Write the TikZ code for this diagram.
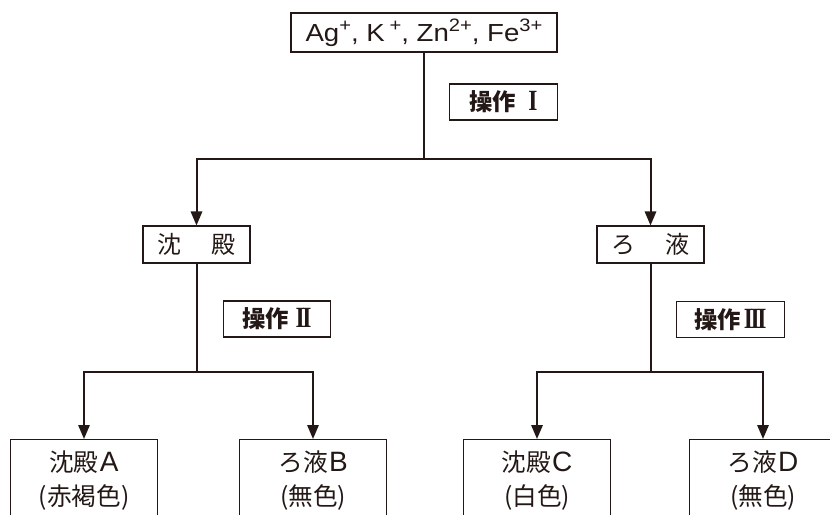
\documentclass[tikz,border=0pt]{standalone}
\usepackage{graphicx}
\usepackage{fontspec}
\setmainfont{Liberation Sans}
\newfontfamily\jpfont{Noto Sans CJK JP}
\newfontfamily\romfont{Liberation Serif}
\usetikzlibrary{arrows.meta}
\usetikzlibrary{positioning}

\begin{document}
\begin{tikzpicture}[x=0.75pt, y=-0.75pt,
		line/.style={line width=1.5pt, color=INK},
		flow/.style={line, -{Triangle[length=10.5pt, width=8.5pt]}},
		box/.style={draw=INK, line width=0.8pt, inner sep=0pt, text=INK},
		ionbox/.style={box, minimum width=199.5pt, minimum height=29.25pt, font=\fontsize{18.5}{22}\selectfont},
		opbox/.style={box, minimum width=80.5pt, minimum height=27pt, font=\jpfont\bfseries\fontsize{17.5}{20}\selectfont},
		midbox/.style={box, minimum width=80.25pt, minimum height=27.75pt, font=\jpfont\fontsize{18}{20}\selectfont},
		leafbox/.style={box, anchor=north, minimum width=110pt, inner ysep=8.5pt, text depth=60pt, align=center, font=\jpfont\fontsize{18.5}{25.5}\selectfont}]
	\definecolor{INK}{RGB}{35, 24, 21}
	\newcommand{\lt}[1]{{\rmfamily\fontsize{21}{25.5}\selectfont\kern1pt #1}}
	\newcommand{\chg}[1]{\raisebox{0.4em}{\fontsize{13.5}{13.5}\selectfont #1}}
	\newcommand{\rn}[1]{\scalebox{0.8}[1]{\romfont\bfseries\fontsize{22}{22}\selectfont #1}}

	\useasboundingbox (0,0) rectangle (830,514);
	\clip (0,0) rectangle (830,514);

	% start and the first operation
	\node[ionbox] (ions) at (424,32.5) {\scalebox{1.12}[1]{Ag\chg{+}, K\,\chg{+}, Zn\chg{2+}, Fe\chg{3+}}};
	\node[opbox] (op1) at (503.5,102) {操作\hspace{9pt}\rn{I}};

	% precipitate and filtrate
	\node[midbox] (ppt) at (196.5,244.5) {沈\hspace{1.25em}殿};
	\node[midbox] (filt) at (650.5,244.5) {ろ\hspace{1.25em}液};

	\node[opbox] (op2) at (277,319) {操作\hspace{5pt}\rn{I\kern-2.2pt I}};
	\node[opbox] (op3) at (730.5,319.5) {操作\hspace{2pt}\rn{I\kern-2.2pt I\kern-2.2pt I}};

	% results, cut off by the page edge
	\node[leafbox] (pptA) at (84,439) {沈殿\lt{A}\\(赤褐色)};
	\node[leafbox] (filtB) at (313,439) {ろ液\lt{B}\\(無色)};
	\node[leafbox] (pptC) at (537,439) {沈殿\lt{C}\\(白色)};
	\node[leafbox] (filtD) at (763,439) {ろ液\lt{D}\\(無色)};

	% branches
	\coordinate (s1) at (424,159);
	\coordinate (s2) at (196.5,372);
	\coordinate (s3) at (650.5,372);

	\draw[line] (ions.south) -- (s1);
	\draw[flow] (s1) -| (ppt.north);
	\draw[flow] (s1) -| (filt.north);

	\draw[line] (ppt.south) -- (s2);
	\draw[flow] (s2) -| (pptA.north);
	\draw[flow] (s2) -| (filtB.north);

	\draw[line] (filt.south) -- (s3);
	\draw[flow] (s3) -| (pptC.north);
	\draw[flow] (s3) -| (filtD.north);
\end{tikzpicture}
\end{document}
